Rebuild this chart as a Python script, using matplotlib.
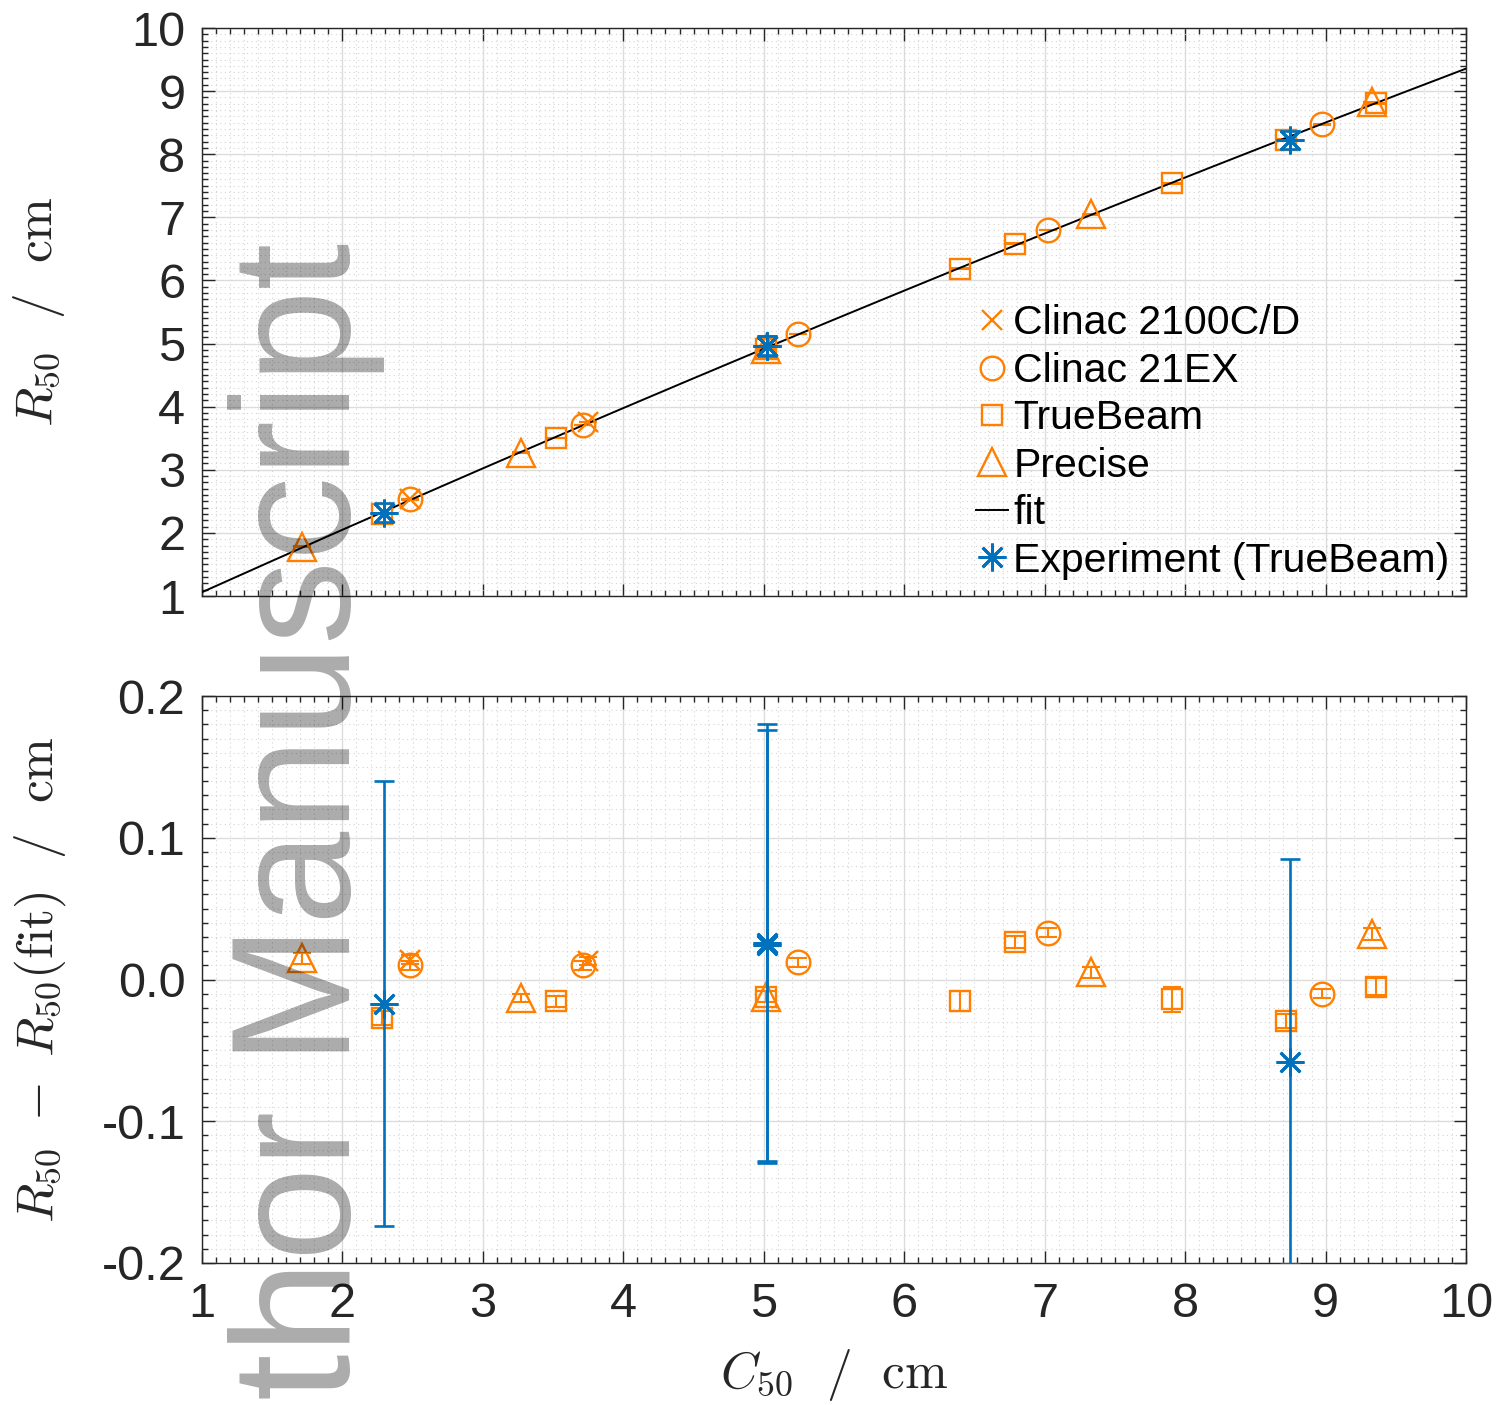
import numpy as np
import matplotlib
matplotlib.use("Agg")
import matplotlib.pyplot as plt
from matplotlib.ticker import MultipleLocator

plt.rcParams['font.family'] = ['Liberation Sans', 'DejaVu Sans']
plt.rcParams['mathtext.fontset'] = 'cm'

orange = '#FF7F00'
blue = '#0072BD'
dark = '#262626'

# ---- data ----
# Clinac 2100C/D
c_2100 = [2.48, 3.75]
r_2100 = [2.534, 3.753]
d_2100 = [0.014, 0.013]
e_2100 = [0.003, 0.003]
# Clinac 21EX
c_21ex = [2.48, 3.71, 5.245, 7.026, 8.977]
r_21ex = [2.530, 3.710, 5.156, 6.800, 8.473]
d_21ex = [0.010, 0.010, 0.012, 0.033, -0.010]
e_21ex = [0.003, 0.003, 0.003, 0.003, 0.003]
# TrueBeam
c_tb = [2.282, 3.521, 5.017, 6.399, 6.791, 7.909, 8.721, 9.362]
r_tb = [2.299, 3.507, 4.921, 6.187, 6.582, 7.537, 8.232, 8.809]
d_tb = [-0.027, -0.0155, -0.012, -0.015, 0.0265, -0.014, -0.029, -0.005]
e_tb = [0.005, 0.004, 0.004, 0.007, 0.004, 0.009, 0.005, 0.006]
# Precise
c_pr = [1.712, 3.272, 5.017, 7.332, 9.333]
r_pr = [1.781, 3.271, 4.921, 7.045, 8.821]
d_pr = [0.015, -0.013, -0.012, 0.005, 0.032]
e_pr = [0.004, 0.003, 0.004, 0.004, 0.004]
# Experiment (TrueBeam)
c_exp = [2.296, 5.024, 5.024, 8.749]
r_exp = [2.322, 4.965, 4.963, 8.227]
d_exp = [-0.017, 0.0255, 0.024, -0.058]
e_exp = [0.157, 0.155, 0.152, 0.143]
# quadratic fit R50(C50)
fit_coef = [-0.00848, 1.0151, 0.0534]

W, H = 1512, 1405
fig = plt.figure(figsize=(W / 100, H / 100), dpi=100)
ax1 = fig.add_axes([202 / W, 1 - 596 / H, (1466 - 202) / W, (596 - 28) / H])
ax2 = fig.add_axes([202 / W, 1 - 1263 / H, (1466 - 202) / W, (1263 - 696) / H])

series = [
    (c_2100, r_2100, d_2100, e_2100, 'x', 14, 'Clinac 2100C/D'),
    (c_21ex, r_21ex, d_21ex, e_21ex, 'o', 17, 'Clinac 21EX'),
    (c_tb, r_tb, d_tb, e_tb, 's', 14, 'TrueBeam'),
    (c_pr, r_pr, d_pr, e_pr, '^', 20, 'Precise'),
]

for ax, top in [(ax1, True), (ax2, False)]:
    for c, r, d, e, m, ms, lab in series:
        y = r if top else d
        ax.errorbar(c, y, yerr=e, fmt='none', ecolor=orange, elinewidth=1.5,
                    capsize=6.5, capthick=1.5, zorder=3)
        ax.plot(c, y, linestyle='none', marker=m, markersize=ms, mfc='none',
                mec=orange, mew=1.7, label=lab, zorder=4)
    if top:
        xx = np.linspace(1, 10, 200)
        ax.plot(xx, np.polyval(fit_coef, xx), color='black', lw=1.4,
                label='fit', zorder=3)
    y = r_exp if top else d_exp
    ax.errorbar(c_exp, y, yerr=e_exp, fmt='none', ecolor=blue, elinewidth=1.9,
                capsize=7, capthick=1.9, zorder=5)
    ax.plot(c_exp, y, linestyle='none', marker=(8, 2, 0), markersize=20,
            mec=blue, mew=2.0, label='Experiment (TrueBeam)', zorder=6)

    ax.set_xlim(1, 10)
    ax.xaxis.set_major_locator(MultipleLocator(1))
    ax.xaxis.set_minor_locator(MultipleLocator(0.1))
    ax.grid(True, which='major', color='#dcdcdc', lw=1.0, zorder=0)
    ax.grid(True, which='minor', color='#d4d4d4', lw=0.8, linestyle=(0, (1, 3)), zorder=0)
    ax.set_axisbelow(True)
    ax.tick_params(which='both', direction='in', top=True, right=True,
                   colors=dark, labelsize=35, width=1.0)
    ax.tick_params(which='major', length=9)
    ax.tick_params(which='minor', length=4.5)
    ax.tick_params(axis='y', pad=12)
    ax.tick_params(axis='x', pad=14)
    for s in ax.spines.values():
        s.set_color(dark)
        s.set_linewidth(1.0)

ax1.set_ylim(1, 10)
ax1.yaxis.set_major_locator(MultipleLocator(1))
ax1.yaxis.set_minor_locator(MultipleLocator(0.1))
ax1.tick_params(labelbottom=False)
ax1.set_ylabel(r'$R_{50}\ \ /\ \ \mathrm{cm}$', fontsize=37, color=dark, labelpad=46)

yt = [-0.2, -0.1, 0.0, 0.1, 0.2]
ytl = ['-0.2', '-0.1', '0.0', '0.1', '0.2']
ax2.set_ylim(-0.2, 0.2)
ax2.set_yticks(yt)
ax2.set_yticklabels(ytl)
ax2.yaxis.set_minor_locator(MultipleLocator(0.01))
ax2.set_ylabel(r'$R_{50}\ -\ R_{50}(\mathrm{fit})\ \ /\ \ \mathrm{cm}$', fontsize=37,
               color=dark, labelpad=24)
ax2.set_xlabel(r'$C_{50}\ \ /\ \ \mathrm{cm}$', fontsize=37, color=dark, labelpad=14)

leg = ax1.legend(loc='lower right', bbox_to_anchor=(1.0, 0.0), frameon=False,
                 fontsize=29.5, labelspacing=0.23, handlelength=0.8,
                 handletextpad=0.12, borderaxespad=0.2, borderpad=0.2)

fig.text(350 / W, 1 - 1400 / H, 'thor Manuscript', rotation=90,
         rotation_mode='anchor', ha='left', va='baseline', fontsize=121,
         family='Liberation Sans', color='black', alpha=0.33, zorder=10)

fig.savefig('out.png', dpi=100)
